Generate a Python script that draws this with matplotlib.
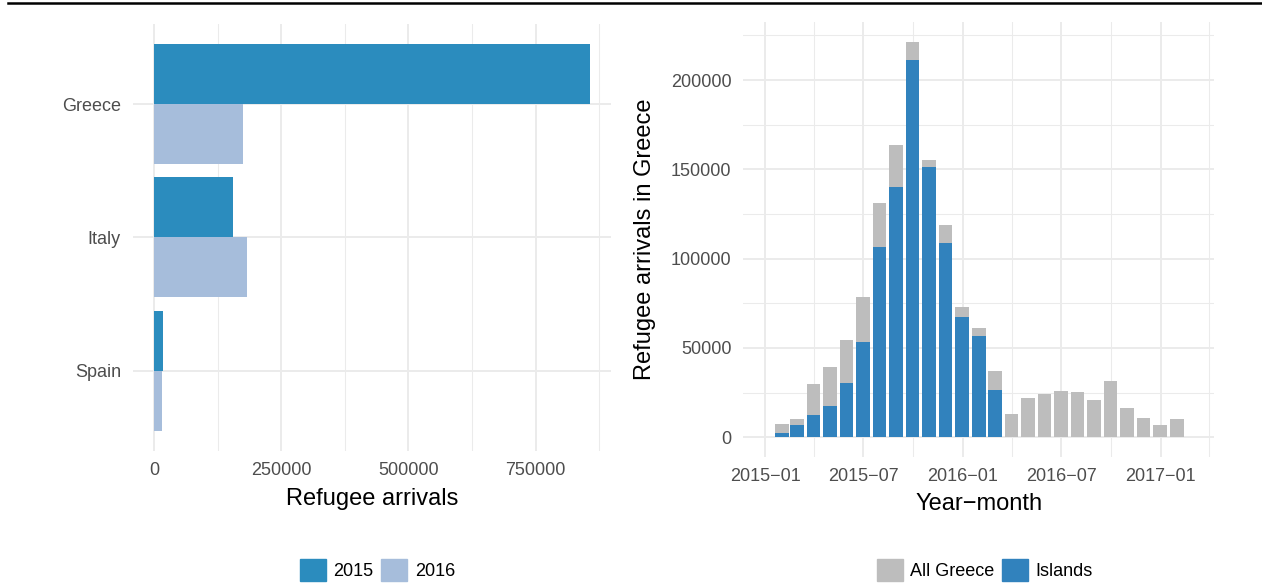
import numpy as np
import pandas as pd
import matplotlib
matplotlib.use("Agg")
import matplotlib.pyplot as plt
import matplotlib.dates as mdates
from matplotlib.ticker import MultipleLocator, FixedLocator
from matplotlib.patches import Patch
from matplotlib.lines import Line2D

plt.rcParams['font.family'] = ['Liberation Sans', 'DejaVu Sans']

# left panel: arrivals by country
countries = ['Greece', 'Italy', 'Spain']
arrivals_2015 = [856000, 155100, 17500]
arrivals_2016 = [174600, 182600, 15700]

# right panel: monthly arrivals in Greece
months = ['2015-01', '2015-02', '2015-03', '2015-04', '2015-05', '2015-06',
          '2015-07', '2015-08', '2015-09', '2015-10', '2015-11', '2015-12',
          '2016-01', '2016-02', '2016-03', '2016-04', '2016-05', '2016-06',
          '2016-07', '2016-08', '2016-09', '2016-10', '2016-11', '2016-12',
          '2017-01']
all_greece = [7500, 10300, 29900, 39400, 54600, 78700, 131400, 163900, 221600,
              155500, 119000, 73100, 61300, 37200, 13100, 22200, 24400, 26100,
              25600, 21100, 31800, 16500, 10900, 7000, 10300]
islands = [2400, 6900, 12500, 17600, 30500, 53400, 106700, 140300, 211500,
           151500, 108900, 67500, 56800, 26500]

c2015 = '#2B8CBE'
c2016 = '#A6BDDB'
c_all = '#BDBDBD'
c_isl = '#3182BD'
grid_c = '#EBEBEB'
tick_c = '#4D4D4D'
tick_fs = 13
title_fs = 17

W, H = 1262, 585
fig = plt.figure(figsize=(W / 100, H / 100), dpi=100)

def px_axes(x0, x1, ytop, ybot):
    return fig.add_axes([x0 / W, 1 - ybot / H, (x1 - x0) / W, (ybot - ytop) / H])

def style(ax):
    for s in ax.spines.values():
        s.set_visible(False)
    ax.set_axisbelow(True)
    ax.grid(which='major', color=grid_c, lw=1.4)
    ax.grid(which='minor', color=grid_c, lw=0.75)
    ax.tick_params(which='both', length=0, colors=tick_c, labelsize=tick_fs)
    ax.tick_params(axis='x', pad=8)
    ax.tick_params(axis='y', pad=8.5)

# ---- left: horizontal dodged bars
ax1 = px_axes(132.7, 611, 24, 450.7)
style(ax1)
ypos = np.arange(len(countries))[::-1] + 1
ax1.barh(ypos + 0.225, arrivals_2015, height=0.45, color=c2015)
ax1.barh(ypos - 0.225, arrivals_2016, height=0.45, color=c2016)
ax1.set_yticks(ypos)
ax1.set_yticklabels(countries)
ax1.set_ylim(0.4, 3.6)
ax1.set_xlim(-42000, 898000)
ax1.xaxis.set_major_locator(FixedLocator([0, 250000, 500000, 750000]))
ax1.xaxis.set_minor_locator(FixedLocator([125000, 375000, 625000, 875000]))
ax1.set_xticklabels(['0', '250000', '500000', '750000'])
ax1.grid(axis='y', which='minor', visible=False)
ax1.set_xlabel('Refugee arrivals', fontsize=title_fs, va='baseline')
ax1.xaxis.set_label_coords(0.5, (450.7 - 505) / 426.7)

# ---- right: monthly bars, islands overlaid on all Greece
ax2 = px_axes(743.3, 1214.3, 22, 456.7)
style(ax2)
dates = pd.to_datetime(months, format='%Y-%m') + pd.offsets.MonthEnd(0)
ax2.bar(dates, all_greece, width=25.5, color=c_all)
ax2.bar(dates[:len(islands)], islands, width=25.5, color=c_isl)
ax2.xaxis.set_major_locator(mdates.MonthLocator(bymonth=[1, 7]))
ax2.xaxis.set_minor_locator(mdates.MonthLocator(bymonth=[4, 10]))
ax2.xaxis.set_major_formatter(mdates.DateFormatter('%Y\u2212%m'))
ax2.set_xlim(pd.Timestamp('2014-11-21'), pd.Timestamp('2017-04-10'))
ax2.yaxis.set_major_locator(MultipleLocator(50000))
ax2.yaxis.set_minor_locator(MultipleLocator(25000))
ax2.set_ylim(-10862, 232530)
ax2.set_xlabel('Year\u2212month', fontsize=title_fs, va='baseline')
ax2.xaxis.set_label_coords(0.5, (456.7 - 510) / 434.7)
ax2.set_ylabel('Refugee arrivals in Greece', fontsize=title_fs, va='center')
ax2.yaxis.set_label_coords((644.5 - 743.3) / 471, 0.5)

# ---- legends
leg_kw = dict(loc='center', ncol=2, frameon=False, fontsize=13, borderpad=0,
              handlelength=1.43, handleheight=1.43, handletextpad=0.42,
              columnspacing=0.42, borderaxespad=0)
fig.legend(handles=[Patch(color=c2015, label='2015'), Patch(color=c2016, label='2016')],
           bbox_to_anchor=(377.5 / W, 1 - 570 / H), **leg_kw)
fig.legend(handles=[Patch(color=c_all, label='All Greece'), Patch(color=c_isl, label='Islands')],
           bbox_to_anchor=(985 / W, 1 - 570 / H), **leg_kw)

# black rule along the top
fig.add_artist(Line2D([8 / W, 1], [1 - 3.3 / H] * 2, lw=1.8, color='black',
                      transform=fig.transFigure))

fig.savefig('out.png', dpi=100)
